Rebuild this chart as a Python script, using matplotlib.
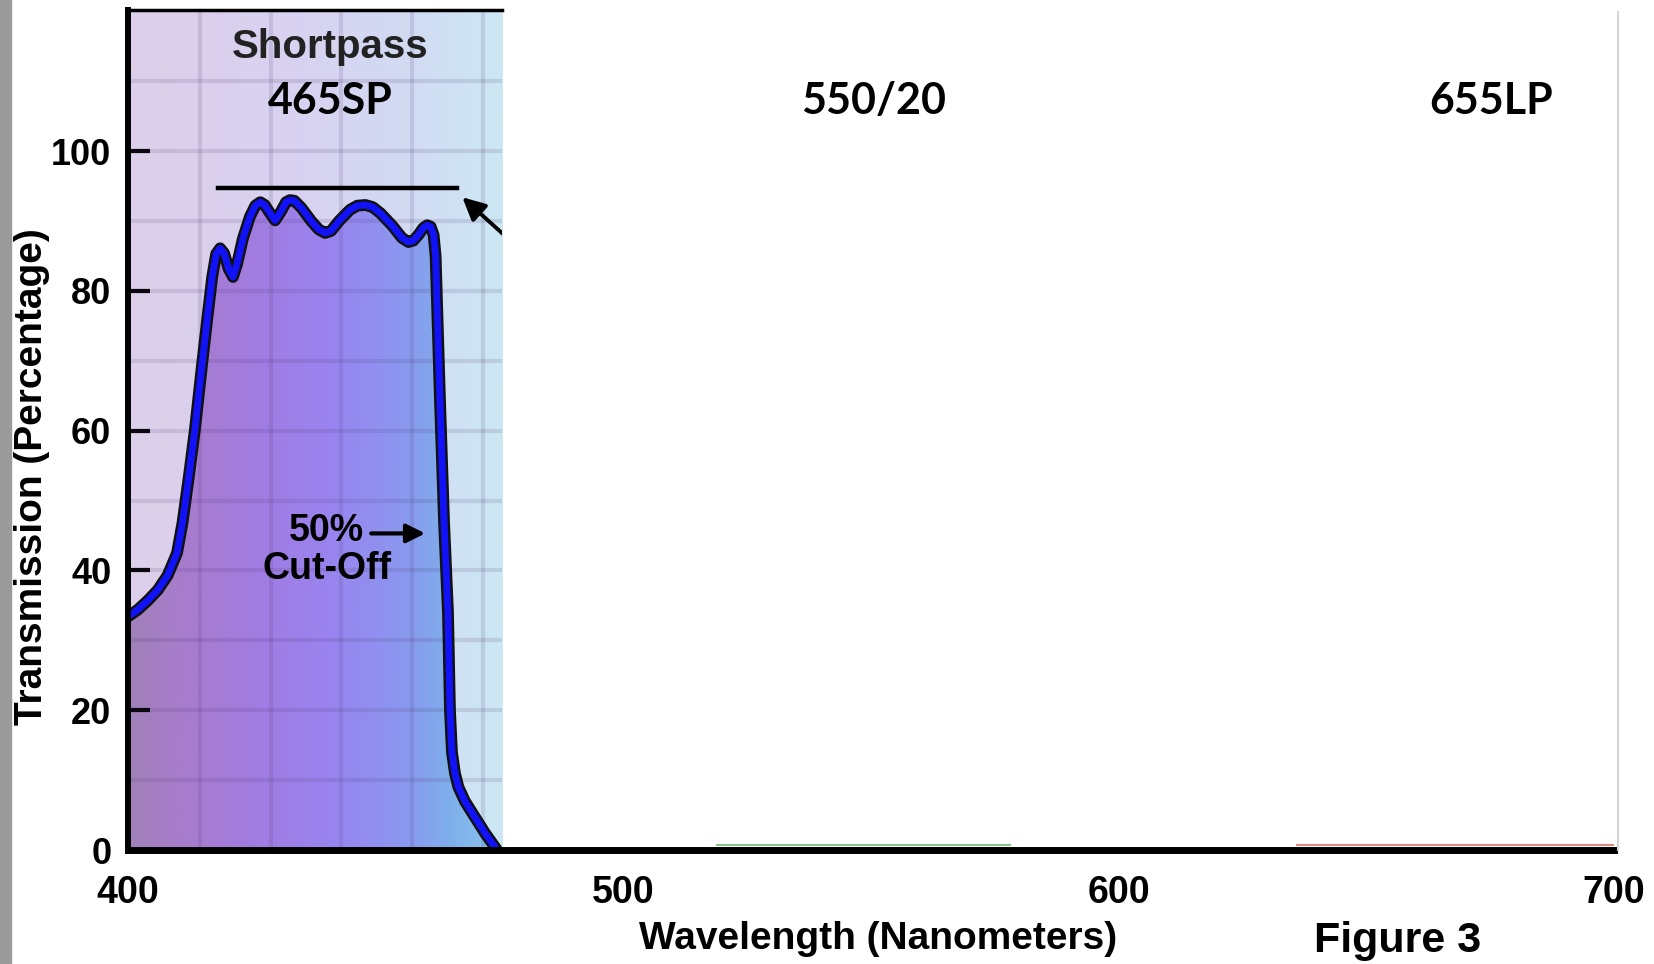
import matplotlib.pyplot as plt
import numpy as np
import matplotlib.patheffects as pe
from matplotlib.colors import LinearSegmentedColormap
from matplotlib.lines import Line2D
from matplotlib.patches import Rectangle, Polygon

plt.rcParams['font.family'] = ['Liberation Sans', 'DejaVu Sans']

# 465SP shortpass transmission
wavelength = [400, 402, 404, 406, 408, 409.9, 411.0, 412.3, 413.5, 414.8, 416.0, 417.0,
              417.8, 418.6, 419.4, 420.3, 421.2, 422.0, 423.2, 424.6, 425.7, 426.7,
              427.6, 428.6, 429.7, 430.9, 431.9, 432.7, 433.6, 435.0, 437.0, 438.5,
              439.8, 441.0, 442.6, 444.8, 446.3, 447.9, 449.4, 451.0, 453.4, 455.3,
              456.6, 457.6, 458.6, 459.6, 460.4, 461.1, 461.7, 462.1, 462.4, 463.0,
              463.8, 464.6, 465.0, 465.4, 466.0, 466.7, 468.0, 469.5, 472.1, 474.5]
transmission = [33.4, 34.4, 35.7, 37.2, 39.3, 42.5, 46.8, 53.5, 60.1, 68.5, 76.0, 82.0,
                85.3, 86.1, 85.4, 83.2, 82.0, 83.8, 87.5, 90.6, 92.2, 92.7,
                92.3, 91.2, 90.1, 91.4, 92.7, 93.0, 92.9, 91.9, 90.0, 88.8,
                88.3, 88.6, 90.0, 91.6, 92.2, 92.3, 92.0, 91.1, 89.3, 87.6,
                87.0, 87.2, 88.0, 89.0, 89.4, 89.2, 88.0, 85.0, 78.0, 64.0,
                47.0, 34.0, 20.0, 14.0, 11.0, 9.0, 7.0, 5.3, 2.4, 0.0]

# other filters sit at 0 over the plotted range
other_filters = ["550/20", "655LP"]
other_ranges = [(519, 578), (636, 700)]
other_colors = ["#3a9a3a", "#c83a2a"]

filter_names = ["465SP", "550/20", "655LP"]
filter_label_x = [440.8, 550.5, 675.2]

band_level = 94.8
band_start, band_end = 418.2, 466.5
cutoff_level = 45.3

panel_end = 475.6   # the coloured scan stops here
y_top = 120.2
grid_x = [414.5, 428.8, 443.1, 457.4, 471.7]
grid_y = list(range(10, 120, 10))

W, H = 1654, 964
fig = plt.figure(figsize=(W / 100, H / 100), dpi=100)
ax = fig.add_axes([128 / W, 1 - 850 / H, (1614 - 128) / W, (850 - 10) / H])
ax.set_xlim(400, 700)
ax.set_ylim(0, y_top)

# background gradient of the scanned panel
bg_cmap = LinearSegmentedColormap.from_list(
    "bg", [(0, "#ddcfe9"), (0.45, "#d8d2f1"), (0.75, "#d2dbf3"), (1, "#cce8f3")])
grad = np.linspace(0, 1, 256).reshape(1, -1)
ax.imshow(grad, extent=[400, panel_end, 0, y_top], aspect='auto', cmap=bg_cmap, zorder=0)

# gradient fill under the curve
fill_cmap = LinearSegmentedColormap.from_list(
    "fill", [(0, "#a082b9"), (0.13, "#a87ccb"), (0.33, "#a27ce0"), (0.53, "#9a83ef"),
             (0.73, "#8b97ef"), (0.86, "#7eafeb"), (1, "#8cc6ec")])
verts = list(zip(wavelength, transmission)) + [(wavelength[-1], 0), (wavelength[0], 0)]
clip_poly = Polygon(verts, closed=True, facecolor='none', edgecolor='none')
ax.add_patch(clip_poly)
im = ax.imshow(grad, extent=[400, panel_end, 0, y_top], aspect='auto', cmap=fill_cmap, zorder=1)
im.set_clip_path(clip_poly)

# grid of the scan
ax.vlines(grid_x, 0, y_top, colors='#4a3470', alpha=0.14, lw=3, zorder=2)
ax.hlines(grid_y, 400, panel_end, colors='#4a3470', alpha=0.14, lw=3, zorder=2)

# curve
ax.plot(wavelength, transmission, color='#1212f6', lw=5, solid_joinstyle='round',
        solid_capstyle='round', zorder=5,
        path_effects=[pe.Stroke(linewidth=8.5, foreground='#111111'), pe.Normal()])

for (a, b), c in zip(other_ranges, other_colors):
    ax.plot([a, b], [0.7, 0.7], color=c, lw=1.5, alpha=0.6, zorder=3)

# passband reference line and arrow
ax.plot([band_start, band_end], [band_level, band_level], color='black', lw=3.2, zorder=5)
clip_rect = Rectangle((400, 0), panel_end - 400, y_top, transform=ax.transData)
ann = ax.annotate('', xy=(467.5, 93.4), xytext=(480, 85.4),
                  arrowprops=dict(arrowstyle='-|>', color='black', lw=2.8,
                                  mutation_scale=34, shrinkA=0, shrinkB=0), zorder=6)
ann.arrow_patch.set_clip_path(clip_rect)

# 50% cut-off marker
ax.annotate('', xy=(460, cutoff_level), xytext=(449.1, cutoff_level),
            arrowprops=dict(arrowstyle='-|>', color='black', lw=3,
                            mutation_scale=28, shrinkA=0, shrinkB=0), zorder=6)
ax.text(440, 45.7, '50%', ha='center', va='center', fontsize=27, fontweight='bold', zorder=6)
ax.text(440.2, 40.2, 'Cut-Off', ha='center', va='center', fontsize=27, fontweight='bold', zorder=6)

ax.text(440.8, 114.9, 'Shortpass', ha='center', va='center', fontsize=29,
        fontweight='bold', color='#222222', zorder=6)
for name, x in zip(filter_names, filter_label_x):
    ax.text(x, 107.2, name, ha='center', va='center', fontsize=31, fontweight='bold',
            family=['Lato', 'DejaVu Sans'], zorder=6)

# top edge of the scan
ax.plot([400, panel_end], [y_top, y_top], color='black', lw=2.5, clip_on=False, zorder=6)

for s in ['top', 'right']:
    ax.spines[s].set_visible(False)
ax.spines['left'].set_linewidth(4.3)
ax.spines['bottom'].set_linewidth(5)
ax.spines['left'].set_zorder(7)
ax.spines['bottom'].set_zorder(7)

ax.set_yticks([0, 20, 40, 60, 80, 100])
ax.set_xticks([400, 500, 600, 700])
ax.tick_params(axis='y', direction='in', length=16, width=3, pad=12, labelsize=26)
ax.tick_params(axis='x', length=0, pad=18, labelsize=27)
for lab in ax.get_xticklabels() + ax.get_yticklabels():
    lab.set_fontweight('bold')

fig.text(32 / W, 1 - 477 / H, 'Transmission (Percentage)', rotation=90, ha='center',
         va='center', fontsize=28, fontweight='bold')
fig.text(878 / W, 1 - 939 / H, 'Wavelength (Nanometers)', ha='center', va='center',
         fontsize=28, fontweight='bold')
fig.text(1398 / W, 1 - 941 / H, 'Figure 3', ha='center', va='center',
         fontsize=31, fontweight='bold')

# scan border bits
fig.add_artist(Rectangle((0, 0), 11 / W, 1, transform=fig.transFigure, color='#9b9b9b'))
fig.add_artist(Line2D([1618 / W, 1618 / W], [1 - 12 / H, 1 - 850 / H], color='#d4d4d4', lw=1.5))

fig.savefig('out.png', dpi=100)
